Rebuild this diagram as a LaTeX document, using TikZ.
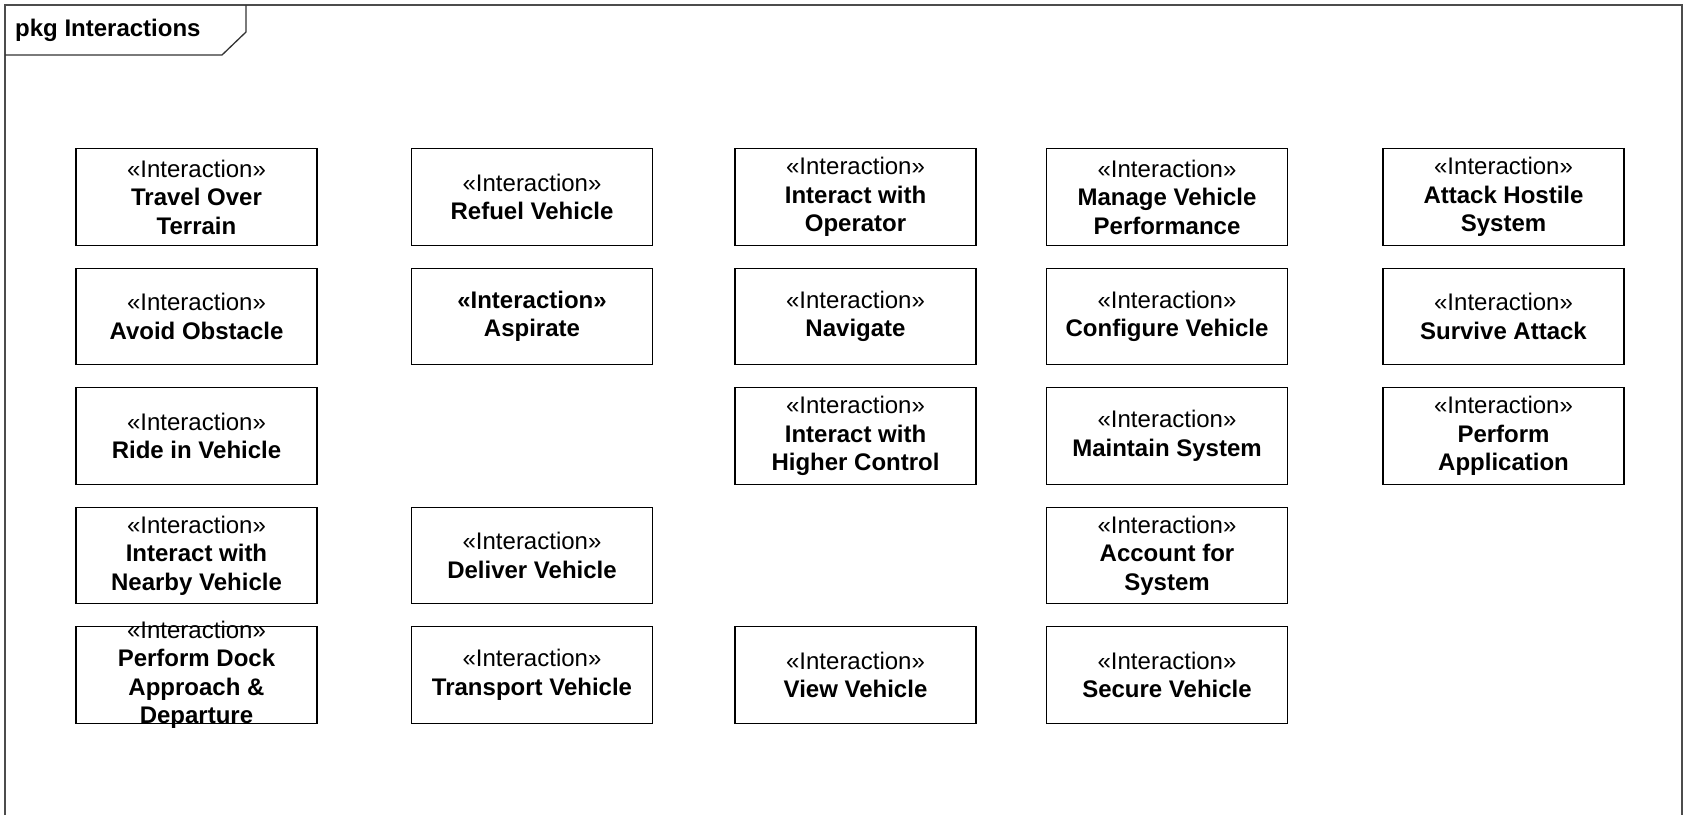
\documentclass[tikz,border=0pt]{standalone}
\usepackage{fontspec}
\setmainfont{Liberation Sans}
\begin{document}
\begin{tikzpicture}[x=1pt,y=-1pt,
  boxline/.style={draw=black,line width=1.1pt},
  ibox/.style={inner sep=0pt,align=center,font=\fontsize{24}{28.5}\selectfont,
    append after command={\pgfextra{\draw[boxline] (\tikzlastnode.center) ++(-120.5,-48.25) rectangle ++(241,96.5);}}},
  frameline/.style={draw=black!70,line width=1.5pt}]
\useasboundingbox (0,0) rectangle (1685,815);
% frame
\draw[frameline] (5,815) -- (5,5) -- (1682,5) -- (1682,815);
\draw[draw=black!80,line width=1.3pt] (5,55) -- (222,55) -- (246,32) -- (246,5);
\node[anchor=west,inner sep=0pt,font=\fontsize{24}{28.5}\selectfont\bfseries] (title) at (15,30) {pkg Interactions};
% column centers: 196.5, 532, 855.5, 1167, 1503.5 ; row centers: 197, 316.5, 436, 555.5, 675
\node[ibox] (b11) at (196.5,197) {«Interaction»\\\textbf{Travel Over}\\\textbf{Terrain}};
\node[ibox] (b12) at (532,197) {«Interaction»\\\textbf{Refuel Vehicle}};
\node[ibox] (b13) at (855.5,197) {«Interaction»\\\textbf{Interact with}\\\textbf{Operator}};
\node[ibox] (b14) at (1167,197) {«Interaction»\\\textbf{Manage Vehicle}\\\textbf{Performance}};
\node[ibox] (b15) at (1503.5,197) {«Interaction»\\\textbf{Attack Hostile}\\\textbf{System}};
\node[ibox] (b21) at (196.5,316.5) {«Interaction»\\\textbf{Avoid Obstacle}};
\node[ibox] (b22) at (532,316.5) {\textbf{«Interaction»}\\\textbf{Aspirate}};
\node[ibox] (b23) at (855.5,316.5) {«Interaction»\\\textbf{Navigate}};
\node[ibox] (b24) at (1167,316.5) {«Interaction»\\\textbf{Configure Vehicle}};
\node[ibox] (b25) at (1503.5,316.5) {«Interaction»\\\textbf{Survive Attack}};
\node[ibox] (b31) at (196.5,436) {«Interaction»\\\textbf{Ride in Vehicle}};
\node[ibox] (b33) at (855.5,436) {«Interaction»\\\textbf{Interact with}\\\textbf{Higher Control}};
\node[ibox] (b34) at (1167,436) {«Interaction»\\\textbf{Maintain System}};
\node[ibox] (b35) at (1503.5,436) {«Interaction»\\\textbf{Perform}\\\textbf{Application}};
\node[ibox] (b41) at (196.5,555.5) {«Interaction»\\\textbf{Interact with}\\\textbf{Nearby Vehicle}};
\node[ibox] (b42) at (532,555.5) {«Interaction»\\\textbf{Deliver Vehicle}};
\node[ibox] (b44) at (1167,555.5) {«Interaction»\\\textbf{Account for}\\\textbf{System}};
\node[ibox] (b51) at (196.5,675) {«Interaction»\\\textbf{Perform Dock}\\\textbf{Approach \&}\\\textbf{Departure}};
\node[ibox] (b52) at (532,675) {«Interaction»\\\textbf{Transport Vehicle}};
\node[ibox] (b53) at (855.5,675) {«Interaction»\\\textbf{View Vehicle}};
\node[ibox] (b54) at (1167,675) {«Interaction»\\\textbf{Secure Vehicle}};
\end{tikzpicture}
\end{document}
